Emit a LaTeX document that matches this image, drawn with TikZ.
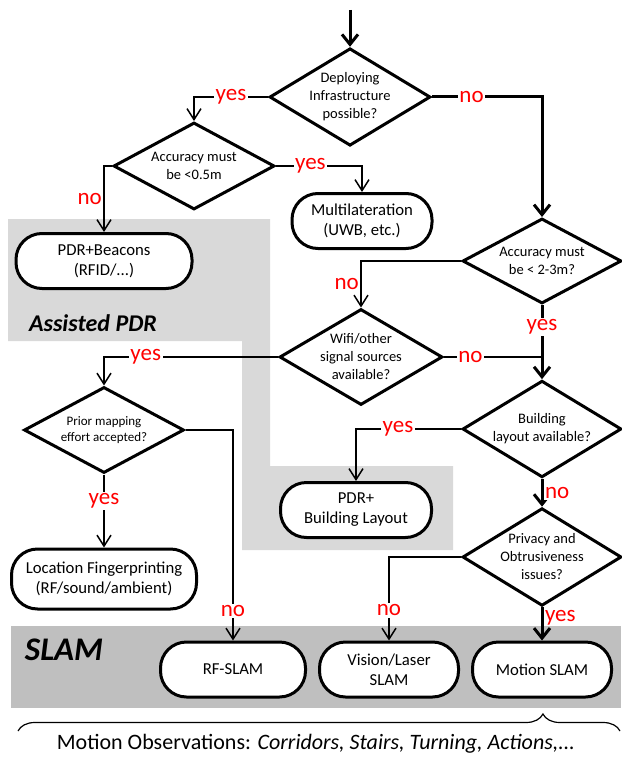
\documentclass[tikz,border=0pt]{standalone}
\usepackage{fontspec}
\setmainfont{Carlito}
\usetikzlibrary{shapes.geometric,arrows.meta,decorations.pathreplacing}
\definecolor{assistgray}{HTML}{D9D9D9}
\definecolor{slamgray}{HTML}{BFBFBF}
\begin{document}
\begin{tikzpicture}[x=1pt,y=-1pt,
  dec/.style={diamond,draw,line width=3pt,inner sep=-8pt,align=center,font=\fontsize{14.5}{18}\selectfont,minimum width=161pt,minimum height=87pt},
  outcome/.style={rectangle,draw,fill=white,line width=3pt,rounded corners=26pt,align=center,font=\fontsize{16.7}{20}\selectfont,minimum height=55pt},
  ans/.style={text=red,fill=white,inner sep=1.5pt,font=\fontsize{23}{25}\selectfont},
  sidearrow/.style={line width=1.5pt,-{Straight Barb[length=11pt,width=14pt]}},
  sideline/.style={line width=1.5pt},
  mainarrow/.style={line width=3pt,-{Straight Barb[length=10pt,width=16pt]}},
  region/.style={font=\bfseries\itshape\fontsize{24}{28}\selectfont}]
\useasboundingbox (0,0) rectangle (621,757);
\fill[assistgray] (8,219) -- (270,219) -- (270,466) -- (453,466) -- (453,550) -- (242,550) -- (242,341) -- (8,341) -- cycle;
\fill[slamgray] (11,626) rectangle (621,708);
\node[region] (assisted) at (93,323) {Assisted PDR};
\node[region,font=\bfseries\itshape\fontsize{33}{36}\selectfont] (slam) at (64,650) {SLAM};

\node[dec] (infra) at (350,97) {Deploying\\Infrastructure\\possible?};
\node[dec] (acc05) at (194,166) {Accuracy must\\be <0.5m};
\node[dec,minimum width=159pt,minimum height=85pt] (acc23) at (542,261) {Accuracy must\\be < 2-3m?};
\node[dec,minimum width=163pt,minimum height=88pt] (wifi) at (361,357) {Wifi/other\\signal sources\\available?};
\node[dec,minimum width=160pt,minimum height=86pt,font=\fontsize{13}{15.5}\selectfont] (prior) at (104,430) {Prior mapping\\effort accepted?};
\node[dec,minimum width=159pt,minimum height=88pt] (layout) at (542,429) {Building\\layout available?};
\node[dec,minimum width=159pt,minimum height=85pt] (privacy) at (542,557) {Privacy and\\Obtrusiveness\\issues?};

\node[outcome,minimum width=140pt] (multi) at (362,221) {Multilateration\\(UWB, etc.)};
\node[outcome,minimum width=176pt] (beacons) at (104,261) {PDR+Beacons\\(RFID/...)};
\node[outcome,minimum width=185pt,minimum height=60pt] (finger) at (104,579) {Location Fingerprinting\\(RF/sound/ambient)};
\node[outcome,minimum width=151pt] (pdrbl) at (356,510) {PDR+\\Building Layout};
\node[outcome,minimum width=145pt] (rfslam) at (233,669.5) {RF-SLAM};
\node[outcome,minimum width=139pt] (vision) at (389,669.5) {Vision/Laser\\SLAM};
\node[outcome,minimum width=139pt] (motion) at (542,669.5) {Motion SLAM};

\coordinate (start) at (350,10);
\draw[mainarrow] (start) -- (infra);
\draw[sidearrow] (infra.west) -| node[ans,pos=0.25] {yes} (acc05.north);
\draw[sidearrow] (acc05.east) -| node[ans,pos=0.2] {yes} (multi.north);
\draw[sidearrow] (acc05.west) -| node[ans,left,pos=0.75] {no} (beacons.north);
\draw[mainarrow] (infra.east) -| node[ans,pos=0.18] {no} (acc23.north);
\draw[sidearrow] (acc23.west) -| node[ans,left,pos=0.75] {no} (wifi.north);
\draw[mainarrow] (acc23.south) -- node[ans,pos=0.3] {yes} (layout.north);
\draw[sideline] (wifi.east) -- node[ans,pos=0.27] {no} (wifi.east -| acc23.south);
\draw[sidearrow] (wifi.west) -| node[ans,pos=0.38] {yes} (prior.north);
\draw[sidearrow] (prior.east) -| node[ans,pos=0.93] {no} (rfslam.north);
\draw[sidearrow] (prior.south) -- node[ans,pos=0.36] {yes} (finger.north);
\draw[sidearrow] (layout.west) -| node[ans,pos=0.3] {yes} (pdrbl.north);
\draw[mainarrow] (layout.south) -- node[ans,right,pos=0.5] {no} (privacy.north);
\draw[sidearrow] (privacy.west) -| node[ans,pos=0.82] {no} (vision.north);
\draw[mainarrow] (privacy.south) -- node[ans,right,pos=0.3] {yes} (motion.north);

\coordinate (braceleft) at (18,731);
\coordinate (braceright) at (620,731);
\draw[line width=1.2pt,decorate,decoration={brace,amplitude=17pt,aspect=0.872}] (braceleft) -- (braceright);
\node[font=\fontsize{22}{24}\selectfont] (obs) at (316,744) {Motion Observations: \textit{Corridors, Stairs, Turning, Actions,...}};
\end{tikzpicture}
\end{document}
